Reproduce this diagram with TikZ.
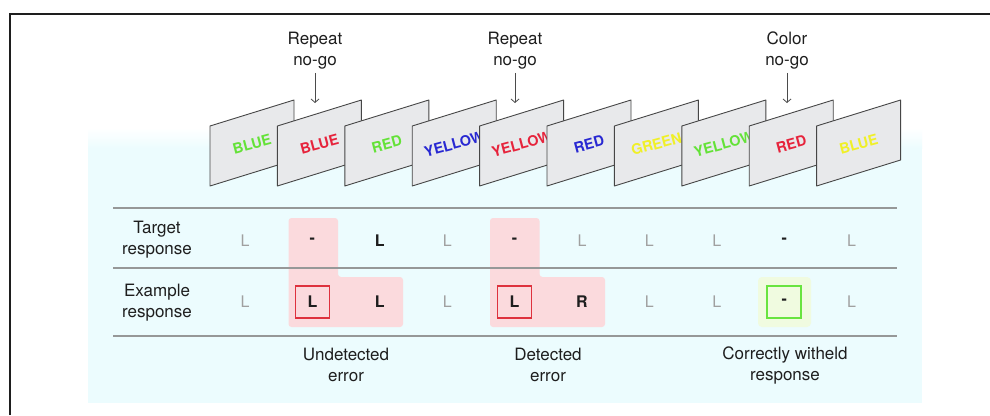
\documentclass[tikz,border=0pt]{standalone}
\usepackage{fontspec}
\setmainfont{TeX Gyre Heros}
\usetikzlibrary{arrows.meta}

\definecolor{panel}{RGB}{236,252,254}
\definecolor{cardfill}{RGB}{232,233,235}
\definecolor{cardline}{RGB}{70,70,70}
\definecolor{pinkfill}{RGB}{251,218,221}
\definecolor{errred}{RGB}{222,50,62}
\definecolor{okgreen}{RGB}{104,228,64}
\definecolor{glow}{RGB}{240,251,224}
\definecolor{wgreen}{RGB}{100,226,56}
\definecolor{wred}{RGB}{230,36,60}
\definecolor{wblue}{RGB}{40,40,210}
\definecolor{wyellow}{RGB}{240,240,40}
\definecolor{rulegray}{RGB}{150,152,152}
\definecolor{faintgray}{RGB}{160,160,160}
\definecolor{ink}{RGB}{30,30,30}

\tikzset{
  cardshape/.style={fill=cardfill, draw=cardline, line width=0.9pt, line join=round},
  cardword/.style={font=\fontsize{14.5}{14.5}\selectfont\bfseries, inner sep=0pt, rotate=15},
  toplabel/.style={font=\fontsize{17}{21}\selectfont, text=ink, align=center, inner xsep=0pt, inner ysep=3pt},
  pointer/.style={draw=ink!80, line width=0.8pt, -{Straight Barb[length=3.5pt,width=8pt]}},
  tablerule/.style={draw=rulegray, line width=1.4pt},
  rowlabel/.style={font=\fontsize{17}{21}\selectfont, text=ink, align=center},
  caption/.style={font=\fontsize{17}{21}\selectfont, text=ink, align=center},
  cellfaint/.style={font=\fontsize{16}{16}\selectfont, text=faintgray},
  cellbold/.style={font=\fontsize{16}{16}\selectfont\bfseries, text=ink},
  errcell/.style={cellbold, draw=errred, line width=1.5pt, minimum width=34pt, minimum height=32pt},
  okcell/.style={cellbold, draw=okgreen, line width=1.5pt, minimum width=34pt, minimum height=32pt},
  pinkzone/.style={fill=pinkfill, rounded corners=3pt}
}

\begin{document}
\begin{tikzpicture}[x=1pt,y=-1pt]
\useasboundingbox (0,0) rectangle (990,415);
\fill[white] (0,0) rectangle (990,415);

% light panel behind the sequence and the table
\fill[panel] (88,148) rectangle (922,403);
\shade[top color=white, bottom color=panel] (88,128) rectangle (922,148.5);

% outer frame (top and left sides)
\draw[line width=2pt, draw=ink] (10,415) -- (10,14) -- (990,14);

% stimulus cards
\foreach \w/\c [count=\i from 0] in {BLUE/wgreen, BLUE/wred, RED/wgreen, YELLOW/wblue, YELLOW/wred, RED/wblue, GREEN/wyellow, YELLOW/wgreen, RED/wred, BLUE/wyellow}{
  \pgfmathsetmacro\L{210+67.4*\i}
  \draw[cardshape] (\L,126) -- (\L+84,100) -- (\L+84,160) -- (\L,186) -- cycle;
  \node[cardword, text=\c] (w\i) at (\L+42,144) {\w};
}

% no-go markers
\node[toplabel] (lab1) at (315,51) {Repeat\\no-go};
\node[toplabel] (lab2) at (515,51) {Repeat\\no-go};
\node[toplabel] (lab3) at (787,51) {Color\\no-go};
\coordinate (tip1) at (315,103);
\coordinate (tip2) at (515,103);
\coordinate (tip3) at (787,103);
\draw[pointer] (lab1.south) -- (tip1);
\draw[pointer] (lab2.south) -- (tip2);
\draw[pointer] (lab3.south) -- (tip3);

% error zones
\fill[pinkzone] (288.5,218) -- (338,218) -- (338,277) -- (403,277) -- (403,327) -- (288.5,327) -- cycle;
\fill[pinkzone] (490,218) -- (539.5,218) -- (539.5,277) -- (605,277) -- (605,327) -- (490,327) -- cycle;
\fill[glow, rounded corners=4pt] (758,277) rectangle (811,327);

% table rules
\draw[tablerule] (113,208) -- (897,208);
\draw[tablerule] (113,268) -- (897,268);
\draw[tablerule] (113,336) -- (897,336);

% row headings
\node[rowlabel] (rowT) at (157,240) {Target\\response};
\node[rowlabel] (rowE) at (157,303) {Example\\response};

% target responses
\foreach \t/\s [count=\i from 0] in {L/cellfaint, -/cellbold, L/cellbold, L/cellfaint, -/cellbold, L/cellfaint, L/cellfaint, L/cellfaint, -/cellbold, L/cellfaint}{
  \node[\s] (t\i) at (245+67.4*\i,241) {\t};
}

% example responses
\foreach \t/\s [count=\i from 0] in {L/cellfaint, L/errcell, L/cellbold, L/cellfaint, L/errcell, R/cellbold, L/cellfaint, L/cellfaint, -/okcell, L/cellfaint}{
  \node[\s] (e\i) at (245+67.4*\i,302) {\t};
}

% outcome captions
\node[caption] (cap1) at (346,365) {Undetected\\error};
\node[caption] (cap2) at (548,365) {Detected\\error};
\node[caption] (cap3) at (785,365) {Correctly witheld\\response};
\end{tikzpicture}
\end{document}
